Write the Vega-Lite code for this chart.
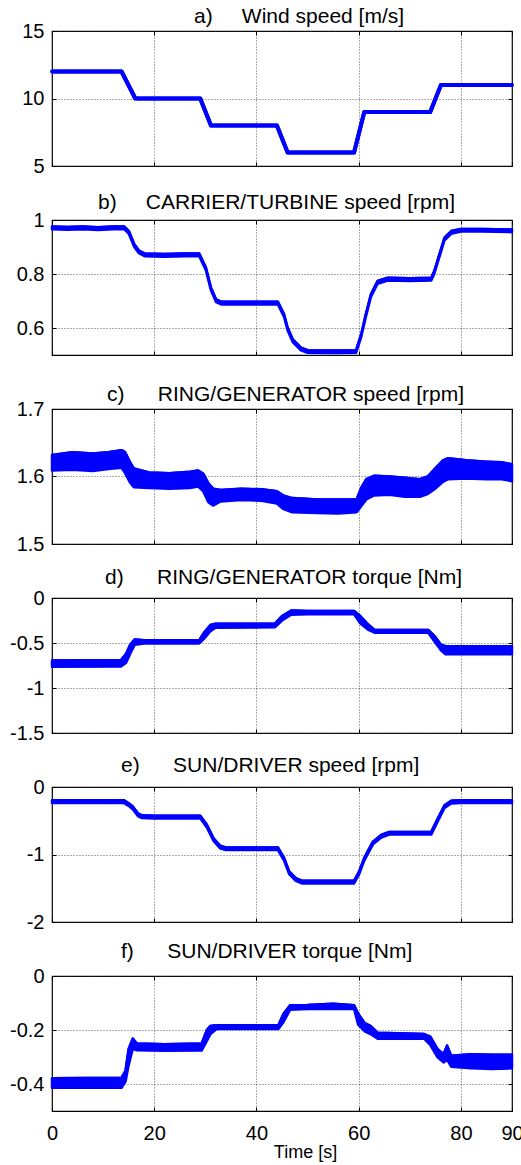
{
  "$schema": "https://vega.github.io/schema/vega-lite/v6.json",
  "padding": {"left": 8, "top": 5, "right": 0, "bottom": 3},
  "bounds": "flush",
  "spacing": 54,
  "config": {
    "view": {"stroke": "black", "strokeWidth": 1.2},
    "font": "Liberation Sans",
    "axis": {
      "domain": false,
      "tickSize": -4,
      "tickColor": "black",
      "tickWidth": 1,
      "labelFont": "Liberation Sans",
      "labelFontSize": 20,
      "labelColor": "black",
      "gridColor": "#333333",
      "gridDash": [1, 2],
      "gridWidth": 0.8,
      "gridOpacity": 1,
      "titleFont": "Liberation Sans",
      "titleFontWeight": "normal",
      "titleColor": "black"
    },
    "axisLeft": {"labelPadding": 12},
    "axisBottom": {"labelPadding": 16, "labelFlush": false},
    "title": {
      "font": "Liberation Sans",
      "fontSize": 21,
      "fontWeight": "normal",
      "color": "black",
      "anchor": "start",
      "frame": "group",
      "baseline": "alphabetic"
    }
  },
  "datasets": {
    "wind": [
      {"t": 0, "lo": 12, "hi": 12}, {"t": 13.6, "lo": 12, "hi": 12},
      {"t": 16.3, "lo": 10, "hi": 10}, {"t": 29.0, "lo": 10, "hi": 10},
      {"t": 31.1, "lo": 8, "hi": 8}, {"t": 44.0, "lo": 8, "hi": 8},
      {"t": 46.1, "lo": 6, "hi": 6}, {"t": 59.1, "lo": 6, "hi": 6},
      {"t": 61.1, "lo": 9, "hi": 9}, {"t": 74.0, "lo": 9, "hi": 9},
      {"t": 76.1, "lo": 11, "hi": 11}, {"t": 90, "lo": 11, "hi": 11}
    ],
    "carrier": [
      {"t": 0, "lo": 0.966, "hi": 0.976}, {"t": 3, "lo": 0.964, "hi": 0.974},
      {"t": 6, "lo": 0.966, "hi": 0.976}, {"t": 9, "lo": 0.963, "hi": 0.973},
      {"t": 12, "lo": 0.966, "hi": 0.976}, {"t": 14.1, "lo": 0.966, "hi": 0.976},
      {"t": 15.0, "lo": 0.950, "hi": 0.960}, {"t": 16.1, "lo": 0.900, "hi": 0.910},
      {"t": 17.0, "lo": 0.877, "hi": 0.887}, {"t": 18.1, "lo": 0.866, "hi": 0.876},
      {"t": 22, "lo": 0.864, "hi": 0.874}, {"t": 26, "lo": 0.866, "hi": 0.876},
      {"t": 28.8, "lo": 0.866, "hi": 0.876}, {"t": 30.1, "lo": 0.814, "hi": 0.824},
      {"t": 31.1, "lo": 0.739, "hi": 0.749}, {"t": 32.1, "lo": 0.696, "hi": 0.706},
      {"t": 33.2, "lo": 0.687, "hi": 0.697}, {"t": 38, "lo": 0.687, "hi": 0.697},
      {"t": 44.2, "lo": 0.687, "hi": 0.697}, {"t": 45.4, "lo": 0.641, "hi": 0.651},
      {"t": 46.1, "lo": 0.591, "hi": 0.601}, {"t": 47.1, "lo": 0.548, "hi": 0.558},
      {"t": 48.7, "lo": 0.517, "hi": 0.527}, {"t": 50.0, "lo": 0.508, "hi": 0.518},
      {"t": 55, "lo": 0.507, "hi": 0.517}, {"t": 59.5, "lo": 0.508, "hi": 0.518},
      {"t": 60.5, "lo": 0.567, "hi": 0.577}, {"t": 61.4, "lo": 0.641, "hi": 0.651},
      {"t": 62.4, "lo": 0.715, "hi": 0.725}, {"t": 63.7, "lo": 0.764, "hi": 0.774},
      {"t": 65.7, "lo": 0.776, "hi": 0.786}, {"t": 70, "lo": 0.774, "hi": 0.784},
      {"t": 74.2, "lo": 0.776, "hi": 0.786}, {"t": 74.8, "lo": 0.801, "hi": 0.811},
      {"t": 75.8, "lo": 0.863, "hi": 0.873}, {"t": 76.8, "lo": 0.925, "hi": 0.935},
      {"t": 78.1, "lo": 0.949, "hi": 0.959}, {"t": 80.0, "lo": 0.957, "hi": 0.967},
      {"t": 84, "lo": 0.957, "hi": 0.967}, {"t": 90, "lo": 0.955, "hi": 0.965}
    ],
    "ringSpeed": [
      {"t": 0, "lo": 1.609, "hi": 1.632}, {"t": 4, "lo": 1.610, "hi": 1.636},
      {"t": 8, "lo": 1.608, "hi": 1.634}, {"t": 11, "lo": 1.611, "hi": 1.636},
      {"t": 13.6, "lo": 1.613, "hi": 1.639}, {"t": 14.3, "lo": 1.605, "hi": 1.636},
      {"t": 15.2, "lo": 1.592, "hi": 1.622}, {"t": 16.0, "lo": 1.584, "hi": 1.612},
      {"t": 19, "lo": 1.583, "hi": 1.606}, {"t": 23, "lo": 1.582, "hi": 1.605},
      {"t": 27, "lo": 1.583, "hi": 1.607}, {"t": 28.6, "lo": 1.585, "hi": 1.609},
      {"t": 29.6, "lo": 1.578, "hi": 1.604}, {"t": 30.6, "lo": 1.562, "hi": 1.590},
      {"t": 31.5, "lo": 1.557, "hi": 1.582}, {"t": 33, "lo": 1.563, "hi": 1.580},
      {"t": 37, "lo": 1.565, "hi": 1.582}, {"t": 41, "lo": 1.564, "hi": 1.581},
      {"t": 44, "lo": 1.560, "hi": 1.578}, {"t": 45.2, "lo": 1.552, "hi": 1.572},
      {"t": 47, "lo": 1.547, "hi": 1.568}, {"t": 52, "lo": 1.546, "hi": 1.566},
      {"t": 56, "lo": 1.545, "hi": 1.566}, {"t": 59.6, "lo": 1.547, "hi": 1.566},
      {"t": 60.5, "lo": 1.556, "hi": 1.583}, {"t": 61.5, "lo": 1.566, "hi": 1.596},
      {"t": 63, "lo": 1.572, "hi": 1.601}, {"t": 66, "lo": 1.573, "hi": 1.600},
      {"t": 69, "lo": 1.570, "hi": 1.598}, {"t": 72, "lo": 1.570, "hi": 1.596},
      {"t": 73.5, "lo": 1.574, "hi": 1.600}, {"t": 75, "lo": 1.582, "hi": 1.612},
      {"t": 76.5, "lo": 1.592, "hi": 1.624}, {"t": 77.5, "lo": 1.596, "hi": 1.627},
      {"t": 81, "lo": 1.597, "hi": 1.624}, {"t": 85, "lo": 1.596, "hi": 1.622},
      {"t": 88, "lo": 1.596, "hi": 1.621}, {"t": 90, "lo": 1.593, "hi": 1.618}
    ],
    "ringTorque": [
      {"t": 0, "lo": -0.765, "hi": -0.695}, {"t": 13.5, "lo": -0.76, "hi": -0.69},
      {"t": 14.5, "lo": -0.72, "hi": -0.62}, {"t": 15.3, "lo": -0.62, "hi": -0.52},
      {"t": 16.2, "lo": -0.52, "hi": -0.46}, {"t": 18, "lo": -0.505, "hi": -0.47},
      {"t": 28.8, "lo": -0.505, "hi": -0.47}, {"t": 29.8, "lo": -0.45, "hi": -0.38},
      {"t": 31.0, "lo": -0.37, "hi": -0.30}, {"t": 32, "lo": -0.33, "hi": -0.285},
      {"t": 43.6, "lo": -0.325, "hi": -0.285}, {"t": 45, "lo": -0.25, "hi": -0.2},
      {"t": 46.8, "lo": -0.185, "hi": -0.14}, {"t": 50, "lo": -0.18, "hi": -0.145},
      {"t": 59.1, "lo": -0.18, "hi": -0.145}, {"t": 60.3, "lo": -0.28, "hi": -0.2},
      {"t": 61.8, "lo": -0.35, "hi": -0.29}, {"t": 63.1, "lo": -0.385, "hi": -0.355},
      {"t": 73.6, "lo": -0.385, "hi": -0.355}, {"t": 74.8, "lo": -0.48, "hi": -0.42},
      {"t": 76.1, "lo": -0.58, "hi": -0.52}, {"t": 77, "lo": -0.625, "hi": -0.535},
      {"t": 90, "lo": -0.625, "hi": -0.535}
    ],
    "sunSpeed": [
      {"t": 0, "lo": -0.238, "hi": -0.198}, {"t": 14.1, "lo": -0.238, "hi": -0.198},
      {"t": 15.0, "lo": -0.28, "hi": -0.24}, {"t": 15.8, "lo": -0.33, "hi": -0.29},
      {"t": 16.8, "lo": -0.43, "hi": -0.39}, {"t": 17.6, "lo": -0.46, "hi": -0.42},
      {"t": 20, "lo": -0.465, "hi": -0.425}, {"t": 29.0, "lo": -0.465, "hi": -0.425},
      {"t": 30.3, "lo": -0.60, "hi": -0.56}, {"t": 31.6, "lo": -0.80, "hi": -0.76},
      {"t": 32.9, "lo": -0.91, "hi": -0.87}, {"t": 34, "lo": -0.935, "hi": -0.895},
      {"t": 44.2, "lo": -0.935, "hi": -0.895}, {"t": 45.4, "lo": -1.09, "hi": -1.05},
      {"t": 46.4, "lo": -1.29, "hi": -1.25}, {"t": 47.7, "lo": -1.39, "hi": -1.35},
      {"t": 49, "lo": -1.43, "hi": -1.39}, {"t": 59.1, "lo": -1.43, "hi": -1.39},
      {"t": 60.1, "lo": -1.29, "hi": -1.25}, {"t": 61.1, "lo": -1.09, "hi": -1.05},
      {"t": 61.8, "lo": -0.99, "hi": -0.95}, {"t": 62.8, "lo": -0.85, "hi": -0.81},
      {"t": 64.4, "lo": -0.75, "hi": -0.71}, {"t": 66, "lo": -0.705, "hi": -0.665},
      {"t": 74.2, "lo": -0.705, "hi": -0.665}, {"t": 75.5, "lo": -0.505, "hi": -0.465},
      {"t": 76.8, "lo": -0.31, "hi": -0.27}, {"t": 78.1, "lo": -0.245, "hi": -0.205},
      {"t": 80, "lo": -0.238, "hi": -0.198}, {"t": 90, "lo": -0.238, "hi": -0.198}
    ],
    "sunTorque": [
      {"t": 0, "lo": -0.414, "hi": -0.379}, {"t": 13.6, "lo": -0.414, "hi": -0.377},
      {"t": 14.4, "lo": -0.39, "hi": -0.35}, {"t": 15.0, "lo": -0.33, "hi": -0.27},
      {"t": 15.8, "lo": -0.27, "hi": -0.232}, {"t": 16.6, "lo": -0.275, "hi": -0.25},
      {"t": 22, "lo": -0.277, "hi": -0.253}, {"t": 29.3, "lo": -0.276, "hi": -0.25},
      {"t": 30.3, "lo": -0.24, "hi": -0.2}, {"t": 31.0, "lo": -0.215, "hi": -0.185},
      {"t": 32.2, "lo": -0.196, "hi": -0.182}, {"t": 44.3, "lo": -0.196, "hi": -0.182},
      {"t": 45.3, "lo": -0.17, "hi": -0.14}, {"t": 46.6, "lo": -0.125, "hi": -0.108},
      {"t": 50, "lo": -0.122, "hi": -0.107}, {"t": 55, "lo": -0.121, "hi": -0.103},
      {"t": 59.1, "lo": -0.122, "hi": -0.108}, {"t": 59.9, "lo": -0.18, "hi": -0.14},
      {"t": 61.2, "lo": -0.205, "hi": -0.175}, {"t": 62.3, "lo": -0.215, "hi": -0.185},
      {"t": 63.7, "lo": -0.232, "hi": -0.21}, {"t": 72.8, "lo": -0.232, "hi": -0.215},
      {"t": 74, "lo": -0.255, "hi": -0.225}, {"t": 75.4, "lo": -0.3, "hi": -0.27},
      {"t": 76.6, "lo": -0.32, "hi": -0.29}, {"t": 77.3, "lo": -0.31, "hi": -0.258},
      {"t": 78.1, "lo": -0.336, "hi": -0.295}, {"t": 82, "lo": -0.342, "hi": -0.29},
      {"t": 86, "lo": -0.344, "hi": -0.292}, {"t": 90, "lo": -0.342, "hi": -0.292}
    ]
  },
  "vconcat": [
    {
      "title": {"text": "a)\u00a0\u00a0\u00a0\u00a0\u00a0Wind speed [m/s]", "offset": -6, "dx": 142},
      "width": 460, "height": 135,
      "data": {"name": "wind"},
      "layer": [
        {
          "mark": {"type": "area", "fill": "#0000ff", "stroke": "#0000ff", "strokeWidth": 4, "strokeJoin": "round"},
          "encoding": {
            "x": {"field": "t", "type": "quantitative", "scale": {"domain": [0, 90], "nice": false}, "axis": {"values": [0, 20, 40, 60, 80, 90], "labels": false, "title": null, "grid": true}},
            "y": {"field": "lo", "type": "quantitative", "scale": {"domain": [5, 15], "nice": false, "zero": false}, "axis": {"values": [5, 10, 15], "labelExpr": "'' + datum.value", "title": null, "grid": true}},
            "y2": {"field": "hi"}
          }
        },
        {
          "mark": {"type": "line", "stroke": "#0000ff", "strokeWidth": 4, "strokeJoin": "round"},
          "encoding": {
            "x": {"field": "t", "type": "quantitative", "axis": {"orient": "top", "values": [0, 20, 40, 60, 80, 90], "labels": false, "title": null, "grid": false}},
            "y": {"field": "hi", "type": "quantitative", "axis": {"orient": "right", "values": [5, 10, 15], "labels": false, "title": null, "grid": false}}
          }
        }
      ],
      "resolve": {"axis": {"x": "independent", "y": "independent"}}
    },
    {
      "title": {"text": "b)\u00a0\u00a0\u00a0\u00a0\u00a0CARRIER/TURBINE speed [rpm]", "offset": -3, "dx": 46},
      "width": 460, "height": 135,
      "data": {"name": "carrier"},
      "layer": [
        {
          "mark": {"type": "area", "fill": "#0000ff", "stroke": "#0000ff", "strokeWidth": 2.5, "strokeJoin": "round"},
          "encoding": {
            "x": {"field": "t", "type": "quantitative", "scale": {"domain": [0, 90], "nice": false}, "axis": {"values": [0, 20, 40, 60, 80, 90], "labels": false, "title": null, "grid": true}},
            "y": {"field": "lo", "type": "quantitative", "scale": {"domain": [0.5, 1], "nice": false, "zero": false}, "axis": {"values": [0.6, 0.8, 1], "labelExpr": "'' + datum.value", "title": null, "grid": true}},
            "y2": {"field": "hi"}
          }
        },
        {
          "mark": {"type": "line", "stroke": "#0000ff", "strokeWidth": 2.5, "strokeJoin": "round"},
          "encoding": {
            "x": {"field": "t", "type": "quantitative", "axis": {"orient": "top", "values": [0, 20, 40, 60, 80, 90], "labels": false, "title": null, "grid": false}},
            "y": {"field": "hi", "type": "quantitative", "axis": {"orient": "right", "values": [0.6, 0.8, 1], "labels": false, "title": null, "grid": false}}
          }
        }
      ],
      "resolve": {"axis": {"x": "independent", "y": "independent"}}
    },
    {
      "title": {"text": "c)\u00a0\u00a0\u00a0\u00a0\u00a0\u2009RING/GENERATOR speed [rpm]", "offset": -5.5, "dx": 55},
      "width": 460, "height": 135,
      "data": {"name": "ringSpeed"},
      "layer": [
        {
          "mark": {"type": "area", "fill": "#0000ff", "stroke": "#0000ff", "strokeWidth": 2.5, "strokeJoin": "round"},
          "encoding": {
            "x": {"field": "t", "type": "quantitative", "scale": {"domain": [0, 90], "nice": false}, "axis": {"values": [0, 20, 40, 60, 80, 90], "labels": false, "title": null, "grid": true}},
            "y": {"field": "lo", "type": "quantitative", "scale": {"domain": [1.5, 1.7], "nice": false, "zero": false}, "axis": {"values": [1.5, 1.6, 1.7], "labelExpr": "'' + datum.value", "title": null, "grid": true}},
            "y2": {"field": "hi"}
          }
        },
        {
          "mark": {"type": "line", "stroke": "#0000ff", "strokeWidth": 2.5, "strokeJoin": "round"},
          "encoding": {
            "x": {"field": "t", "type": "quantitative", "axis": {"orient": "top", "values": [0, 20, 40, 60, 80, 90], "labels": false, "title": null, "grid": false}},
            "y": {"field": "hi", "type": "quantitative", "axis": {"orient": "right", "values": [1.5, 1.6, 1.7], "labels": false, "title": null, "grid": false}}
          }
        }
      ],
      "resolve": {"axis": {"x": "independent", "y": "independent"}}
    },
    {
      "title": {"text": "d)\u00a0\u00a0\u00a0\u00a0\u00a0\u2009RING/GENERATOR torque [Nm]", "offset": 0.5, "dx": 53},
      "width": 460, "height": 135,
      "data": {"name": "ringTorque"},
      "layer": [
        {
          "mark": {"type": "area", "fill": "#0000ff", "stroke": "#0000ff", "strokeWidth": 2.5, "strokeJoin": "round"},
          "encoding": {
            "x": {"field": "t", "type": "quantitative", "scale": {"domain": [0, 90], "nice": false}, "axis": {"values": [0, 20, 40, 60, 80, 90], "labels": false, "title": null, "grid": true}},
            "y": {"field": "lo", "type": "quantitative", "scale": {"domain": [-1.5, 0], "nice": false, "zero": false}, "axis": {"values": [-1.5, -1, -0.5, 0], "labelExpr": "'' + datum.value", "title": null, "grid": true}},
            "y2": {"field": "hi"}
          }
        },
        {
          "mark": {"type": "line", "stroke": "#0000ff", "strokeWidth": 2.5, "strokeJoin": "round"},
          "encoding": {
            "x": {"field": "t", "type": "quantitative", "axis": {"orient": "top", "values": [0, 20, 40, 60, 80, 90], "labels": false, "title": null, "grid": false}},
            "y": {"field": "hi", "type": "quantitative", "axis": {"orient": "right", "values": [-1.5, -1, -0.5, 0], "labels": false, "title": null, "grid": false}}
          }
        }
      ],
      "resolve": {"axis": {"x": "independent", "y": "independent"}}
    },
    {
      "title": {"text": "e)\u00a0\u00a0\u00a0\u00a0\u00a0\u2009SUN/DRIVER speed [rpm]", "offset": 1.5, "dx": 69},
      "width": 460, "height": 135,
      "data": {"name": "sunSpeed"},
      "layer": [
        {
          "mark": {"type": "area", "fill": "#0000ff", "stroke": "#0000ff", "strokeWidth": 2.5, "strokeJoin": "round"},
          "encoding": {
            "x": {"field": "t", "type": "quantitative", "scale": {"domain": [0, 90], "nice": false}, "axis": {"values": [0, 20, 40, 60, 80, 90], "labels": false, "title": null, "grid": true}},
            "y": {"field": "lo", "type": "quantitative", "scale": {"domain": [-2, 0], "nice": false, "zero": false}, "axis": {"values": [-2, -1, 0], "labelExpr": "'' + datum.value", "title": null, "grid": true}},
            "y2": {"field": "hi"}
          }
        },
        {
          "mark": {"type": "line", "stroke": "#0000ff", "strokeWidth": 2.5, "strokeJoin": "round"},
          "encoding": {
            "x": {"field": "t", "type": "quantitative", "axis": {"orient": "top", "values": [0, 20, 40, 60, 80, 90], "labels": false, "title": null, "grid": false}},
            "y": {"field": "hi", "type": "quantitative", "axis": {"orient": "right", "values": [-2, -1, 0], "labels": false, "title": null, "grid": false}}
          }
        }
      ],
      "resolve": {"axis": {"x": "independent", "y": "independent"}}
    },
    {
      "title": {"text": "f)\u00a0\u00a0\u00a0\u00a0\u00a0\u2009SUN/DRIVER torque [Nm]", "offset": 4.5, "dx": 69},
      "width": 460, "height": 135,
      "data": {"name": "sunTorque"},
      "layer": [
        {
          "mark": {"type": "area", "fill": "#0000ff", "stroke": "#0000ff", "strokeWidth": 2.5, "strokeJoin": "round"},
          "encoding": {
            "x": {"field": "t", "type": "quantitative", "scale": {"domain": [0, 90], "nice": false}, "axis": {"values": [0, 20, 40, 60, 80, 90], "labels": true, "title": "Time [s]", "titleFontSize": 18, "titleX": 253, "titleY": 46, "titleAlign": "center", "titleBaseline": "alphabetic", "grid": true}},
            "y": {"field": "lo", "type": "quantitative", "scale": {"domain": [-0.5, 0], "nice": false, "zero": false}, "axis": {"values": [-0.4, -0.2, 0], "labelExpr": "'' + datum.value", "title": null, "grid": true}},
            "y2": {"field": "hi"}
          }
        },
        {
          "mark": {"type": "line", "stroke": "#0000ff", "strokeWidth": 2.5, "strokeJoin": "round"},
          "encoding": {
            "x": {"field": "t", "type": "quantitative", "axis": {"orient": "top", "values": [0, 20, 40, 60, 80, 90], "labels": false, "title": null, "grid": false}},
            "y": {"field": "hi", "type": "quantitative", "axis": {"orient": "right", "values": [-0.4, -0.2, 0], "labels": false, "title": null, "grid": false}}
          }
        }
      ],
      "resolve": {"axis": {"x": "independent", "y": "independent"}}
    }
  ]
}
